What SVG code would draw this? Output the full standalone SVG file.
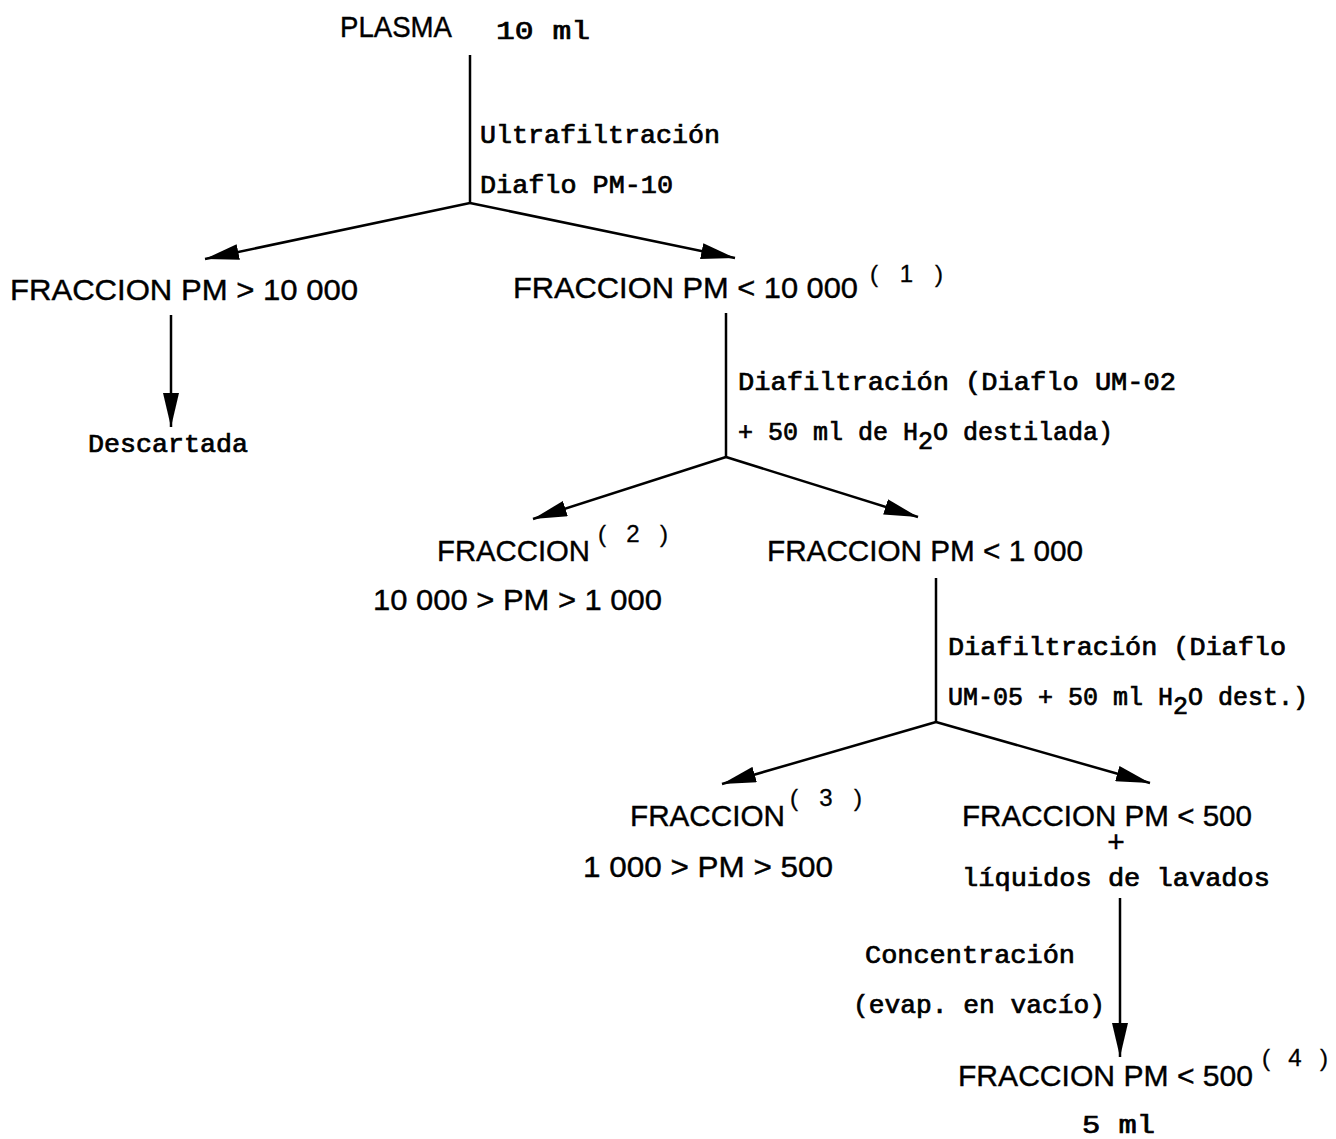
<svg xmlns="http://www.w3.org/2000/svg" width="1336" height="1139" viewBox="0 0 1336 1139">
<style>
.s{font-family:"Liberation Sans",Arial,sans-serif;font-size:30px;fill:#000;stroke:#000;stroke-width:0.4}
.m{font-family:"Liberation Mono","Courier New",monospace;font-size:25px;fill:#000;stroke:#000;stroke-width:0.7}
.sup{font-family:"Liberation Sans",Arial,sans-serif;font-size:24px;fill:#000;stroke:#000;stroke-width:0.3}
.ln{stroke:#000;stroke-width:2.5;fill:none}
</style>
<defs>
<marker id="ah" markerUnits="userSpaceOnUse" markerWidth="36" markerHeight="16" refX="34" refY="8" orient="auto">
<path d="M0,0 L34,8 L0,16 Z" fill="#000"/>
</marker>
</defs>
<rect width="1336" height="1139" fill="#fff"/>
<g id="connectors">
<line class="ln" x1="470" y1="55" x2="470" y2="203"/>
<line class="ln" x1="470" y1="203" x2="205" y2="259" marker-end="url(#ah)"/>
<line class="ln" x1="470" y1="203" x2="735" y2="258" marker-end="url(#ah)"/>
<line class="ln" x1="171" y1="315" x2="171" y2="427" marker-end="url(#ah)"/>
<line class="ln" x1="726" y1="313" x2="726" y2="457"/>
<line class="ln" x1="726" y1="457" x2="533" y2="519" marker-end="url(#ah)"/>
<line class="ln" x1="726" y1="457" x2="918" y2="517" marker-end="url(#ah)"/>
<line class="ln" x1="936" y1="578" x2="936" y2="722"/>
<line class="ln" x1="936" y1="722" x2="722" y2="784" marker-end="url(#ah)"/>
<line class="ln" x1="936" y1="722" x2="1150" y2="783" marker-end="url(#ah)"/>
<line class="ln" x1="1120" y1="898" x2="1120" y2="1057" marker-end="url(#ah)"/>
<text class="m" x="480" y="143" textLength="240" lengthAdjust="spacingAndGlyphs">Ultrafiltración</text>
<text class="m" x="480" y="193" textLength="193" lengthAdjust="spacingAndGlyphs">Diaflo PM-10</text>
<text class="m" x="738" y="390" textLength="438" lengthAdjust="spacingAndGlyphs">Diafiltración (Diaflo UM-02</text>
<text class="m" x="738" y="440">+ 50 ml de H<tspan dy="9">2</tspan><tspan dy="-9">O destilada)</tspan></text>
<text class="m" x="948" y="655" textLength="338" lengthAdjust="spacingAndGlyphs">Diafiltración (Diaflo</text>
<text class="m" x="948" y="705">UM-05 + 50 ml H<tspan dy="9">2</tspan><tspan dy="-9">O dest.)</tspan></text>
<text class="m" x="865" y="963" textLength="210" lengthAdjust="spacingAndGlyphs">Concentración</text>
<text class="m" x="853" y="1013" textLength="252" lengthAdjust="spacingAndGlyphs">(evap. en vacío)</text>
</g>
<g id="plasma">
<text class="s" x="340" y="37" font-size="27" textLength="112" lengthAdjust="spacingAndGlyphs">PLASMA</text>
<text class="m" x="496" y="39" textLength="94" lengthAdjust="spacingAndGlyphs">10 ml</text>
</g>
<g id="f-gt10000">
<text class="s" x="10" y="300" textLength="348" lengthAdjust="spacingAndGlyphs">FRACCION PM &gt; 10 000</text>
</g>
<g id="descartada">
<text class="m" x="88" y="452" textLength="160" lengthAdjust="spacingAndGlyphs">Descartada</text>
</g>
<g id="f-lt10000">
<text class="s" x="513" y="298" textLength="345" lengthAdjust="spacingAndGlyphs">FRACCION PM &lt; 10 000</text>
<text class="sup" x="870" y="282" textLength="73" lengthAdjust="spacing">( 1 )</text>
</g>
<g id="f2">
<text class="s" x="437" y="561" textLength="153" lengthAdjust="spacingAndGlyphs">FRACCION</text>
<text class="sup" x="598" y="542" textLength="70" lengthAdjust="spacing">( 2 )</text>
<text class="s" x="373" y="610" textLength="289" lengthAdjust="spacingAndGlyphs">10 000 &gt; PM &gt; 1 000</text>
</g>
<g id="f-lt1000">
<text class="s" x="767" y="561" textLength="316" lengthAdjust="spacingAndGlyphs">FRACCION PM &lt; 1 000</text>
</g>
<g id="f3">
<text class="s" x="630" y="826" textLength="155" lengthAdjust="spacingAndGlyphs">FRACCION</text>
<text class="sup" x="790" y="806" textLength="72" lengthAdjust="spacing">( 3 )</text>
<text class="s" x="583" y="877" textLength="250" lengthAdjust="spacingAndGlyphs">1 000 &gt; PM &gt; 500</text>
</g>
<g id="f-lt500-liq">
<text class="s" x="962" y="826" textLength="290" lengthAdjust="spacingAndGlyphs">FRACCION PM &lt; 500</text>
<text class="s" x="1116" y="852" font-size="20" text-anchor="middle">+</text>
<text class="m" x="962" y="886" textLength="308" lengthAdjust="spacingAndGlyphs">líquidos de lavados</text>
</g>
<g id="f4">
<text class="s" x="958" y="1086" textLength="295" lengthAdjust="spacingAndGlyphs">FRACCION PM &lt; 500</text>
<text class="sup" x="1262" y="1066" textLength="66" lengthAdjust="spacing">( 4 )</text>
<text class="m" x="1082" y="1133" textLength="73" lengthAdjust="spacingAndGlyphs">5 ml</text>
</g>
</svg>
